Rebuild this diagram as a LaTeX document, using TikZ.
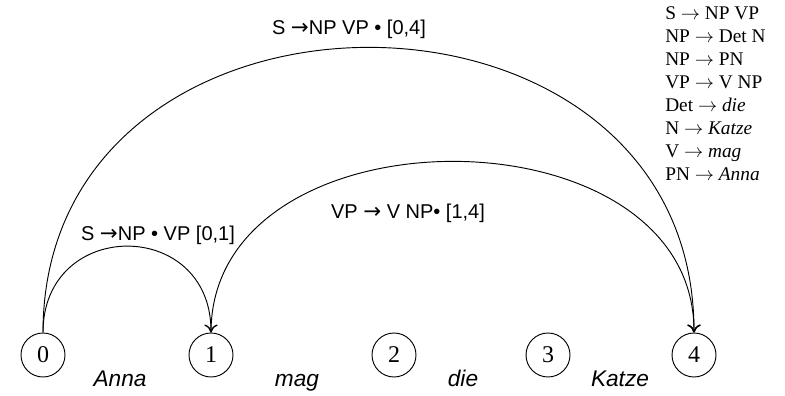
\documentclass[tikz,border=0pt]{standalone}
\usepackage{fontspec}
\setmainfont{Liberation Serif}
\newfontfamily\arialfont{Liberation Sans}
\newfontfamily\arrowfont{DejaVu Sans}
\usetikzlibrary{arrows.meta}

\newcommand{\ra}{{\arrowfont\fontsize{16}{18}\selectfont →}}

\tikzset{
    state/.style={draw, circle, minimum size=33pt, inner sep=0pt, line width=0.7pt, font=\fontsize{18}{20}\selectfont},
    word/.style={anchor=base, font=\arialfont\itshape\fontsize{17}{20}\selectfont},
    edgelabel/.style={anchor=base, font=\arialfont\fontsize{15}{18}\selectfont},
    rule/.style={anchor=base west, inner sep=0pt, font=\fontsize{14.5}{17}\selectfont},
    arcline/.style={line width=0.7pt, -{To[length=6pt,width=10pt,line width=1pt]}}
}

\begin{document}
\begin{tikzpicture}[x=0.75pt, y=0.75pt]
    
        \useasboundingbox (0,0) rectangle (785,396);
        
        % States
        \node[state] (s0) at (43,41) {0};
        \node[state] (s1) at (211,41) {1};
        \node[state] (s2) at (394,41) {2};
        \node[state] (s3) at (548,41) {3};
        \node[state] (s4) at (694,41) {4};
        
        % Words between the states
        \node[word] (anna) at (120,9) {Anna};
        \node[word] (mag) at (297,9) {mag};
        \node[word] (die) at (463,9) {die};
        \node[word] (katze) at (620,9) {Katze};
        
        % Edges
        \draw[arcline] (s0.north) .. controls +(0,115) and +(0,115) .. (s1.north);
        \draw[arcline] (s0.north) .. controls +(0,380) and +(0,380) .. (s4.north);
        \draw[arcline] (s1.north) .. controls +(0,228) and +(0,228) .. (s4.north);
        
        % Edge labels
        \node[edgelabel] (e01) at (158,155) {S \ra NP • VP [0,1]};
        \node[edgelabel] (e04) at (349,361) {S \ra NP VP • [0,4]};
        \node[edgelabel] (e14) at (408,177) {VP \ra{} V NP• [1,4]};
        
        % Grammar
        \node[rule] (g1) at (665,376) {S $\rightarrow$ NP VP};
        \node[rule] (g2) at (665,353) {NP $\rightarrow$ Det N};
        \node[rule] (g3) at (665,330) {NP $\rightarrow$ PN};
        \node[rule] (g4) at (665,307) {VP $\rightarrow$ V NP};
        \node[rule] (g5) at (665,284) {Det $\rightarrow$ \textit{die}};
        \node[rule] (g6) at (665,261) {N $\rightarrow$ \textit{Katze}};
        \node[rule] (g7) at (665,238) {V $\rightarrow$ \textit{mag}};
        \node[rule] (g8) at (665,215) {PN $\rightarrow$ \textit{Anna}};
        
        \end{tikzpicture}
\end{document}
